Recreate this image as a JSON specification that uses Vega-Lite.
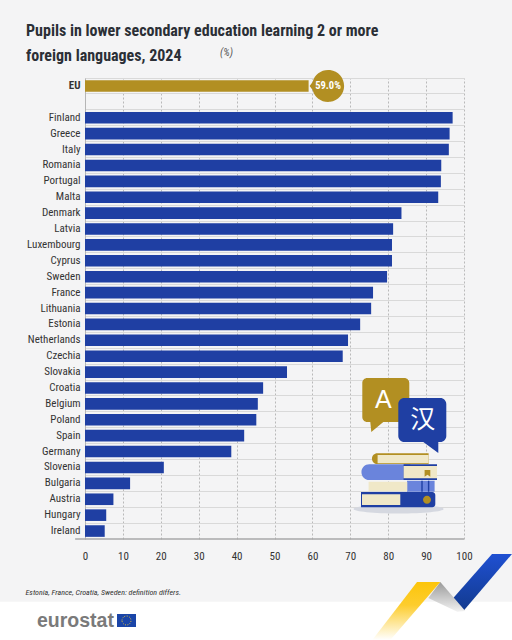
{
  "$schema": "https://vega.github.io/schema/vega-lite/v6.json",
  "width": 379,
  "height": 461,
  "autosize": "none",
  "padding": {"left": 85, "top": 78, "right": 48, "bottom": 101},
  "background": "#f4f4f5",
  "title": {
    "text": ["Pupils in lower secondary education learning 2 or more", "foreign languages, 2024"],
    "anchor": "start",
    "frame": "group",
    "dx": -59,
    "offset": -16,
    "font": "Roboto Condensed, Lato",
    "fontSize": 16,
    "fontWeight": "bold",
    "color": "#2b2f36",
    "lineHeight": 24.5
  },
  "config": {
    "view": {"stroke": null},
    "font": "Roboto Condensed, Lato"
  },
  "resolve": {"axis": {"x": "independent", "y": "independent"}},
  "data": {
    "values": [
      {"country": "EU", "pct": 59.0},
      {"country": "Finland", "pct": 97.0},
      {"country": "Greece", "pct": 96.2},
      {"country": "Italy", "pct": 96.0},
      {"country": "Romania", "pct": 94.0},
      {"country": "Portugal", "pct": 93.9},
      {"country": "Malta", "pct": 93.2},
      {"country": "Denmark", "pct": 83.5},
      {"country": "Latvia", "pct": 81.3},
      {"country": "Luxembourg", "pct": 81.0},
      {"country": "Cyprus", "pct": 81.0},
      {"country": "Sweden", "pct": 79.7},
      {"country": "France", "pct": 76.0},
      {"country": "Lithuania", "pct": 75.5},
      {"country": "Estonia", "pct": 72.6},
      {"country": "Netherlands", "pct": 69.4},
      {"country": "Czechia", "pct": 68.0},
      {"country": "Slovakia", "pct": 53.3},
      {"country": "Croatia", "pct": 47.0},
      {"country": "Belgium", "pct": 45.6},
      {"country": "Poland", "pct": 45.2},
      {"country": "Spain", "pct": 42.0},
      {"country": "Germany", "pct": 38.6},
      {"country": "Slovenia", "pct": 20.8},
      {"country": "Bulgaria", "pct": 11.9},
      {"country": "Austria", "pct": 7.5},
      {"country": "Hungary", "pct": 5.6},
      {"country": "Ireland", "pct": 5.2}
    ]
  },
  "layer": [
    {
      "mark": {"type": "bar", "size": 11.6},
      "encoding": {
        "x": {
          "field": "pct",
          "type": "quantitative",
          "scale": {"domain": [0, 100], "nice": false},
          "axis": {
            "title": null,
            "values": [0, 10, 20, 30, 40, 50, 60, 70, 80, 90, 100],
            "domain": false,
            "ticks": false,
            "labelFlush": false,
            "labelOverlap": false,
            "labelPadding": 11,
            "labelFontSize": 11,
            "labelColor": "#333333",
            "gridColor": "#b9b9b9",
            "gridDash": [2, 2],
            "gridWidth": 1
          }
        },
        "y": {
          "field": "country",
          "type": "nominal",
          "scale": {
            "domain": ["EU", " ", "Finland", "Greece", "Italy", "Romania", "Portugal", "Malta", "Denmark", "Latvia", "Luxembourg", "Cyprus", "Sweden", "France", "Lithuania", "Estonia", "Netherlands", "Czechia", "Slovakia", "Croatia", "Belgium", "Poland", "Spain", "Germany", "Slovenia", "Bulgaria", "Austria", "Hungary", "Ireland"],
            "padding": 0
          },
          "axis": {
            "title": null,
            "grid": true,
            "bandPosition": 0,
            "gridColor": "#d9d9d9",
            "gridWidth": 1,
            "domainColor": "#b5b5b5",
            "ticks": false,
            "labelPadding": 5,
            "labelFontSize": 11,
            "labelColor": "#333333",
            "labelFontWeight": {"condition": {"test": "datum.value == 'EU'", "value": "bold"}, "value": "normal"}
          }
        },
        "color": {
          "condition": {"test": "datum.country == 'EU'", "value": "#b28f22"},
          "value": "#1f3fa3"
        }
      }
    },
    {
      "transform": [
        {"filter": "datum.country == 'EU'"},
        {"calculate": "format(datum.pct, '.1f') + '%'", "as": "label"}
      ],
      "encoding": {
        "x": {"field": "pct", "type": "quantitative", "axis": null},
        "y": {"field": "country", "type": "nominal", "axis": null}
      },
      "layer": [
        {
          "mark": {
            "type": "point",
            "shape": "M1,0 L4,-4 A16,16 0 1 1 4,4 Z",
            "size": 4,
            "filled": true,
            "opacity": 1,
            "strokeWidth": 0,
            "fill": "#b28f22"
          }
        },
        {
          "mark": {"type": "text", "dx": 19.4, "align": "center", "baseline": "middle", "fontSize": 10.5, "fontWeight": "bold", "color": "#ffffff"},
          "encoding": {"text": {"field": "label", "type": "nominal"}}
        }
      ]
    },
    {
      "data": {"values": [{}]},
      "encoding": {
        "x": {"datum": 70, "type": "quantitative", "axis": null},
        "y": {
          "datum": "Croatia",
          "type": "nominal",
          "axis": null,
          "scale": {
            "domain": ["EU", " ", "Finland", "Greece", "Italy", "Romania", "Portugal", "Malta", "Denmark", "Latvia", "Luxembourg", "Cyprus", "Sweden", "France", "Lithuania", "Estonia", "Netherlands", "Czechia", "Slovakia", "Croatia", "Belgium", "Poland", "Spain", "Germany", "Slovenia", "Bulgaria", "Austria", "Hungary", "Ireland"],
            "padding": 0
          }
        }
      },
      "layer": [
        {"mark": {"type": "point", "shape": "M-351,213.7 H162 V253 H-351 Z", "size": 4, "filled": true, "opacity": 1, "strokeWidth": 0, "fill": "#ffffff"}},
        {"mark": {"type": "point", "shape": "M141.7,166 L161.7,166 L113.3,222.7 L103,210 Z", "size": 4, "filled": true, "opacity": 1, "strokeWidth": 0, "fill": {"gradient": "linear", "x1": 0, "y1": 1, "x2": 0, "y2": 0, "stops": [{"offset": 0, "color": "#123a8e"}, {"offset": 1, "color": "#1f50d2"}]}}},
        {"mark": {"type": "point", "shape": "M78,210 L90,194 L115,223 L107,223.7 Z", "size": 4, "filled": true, "opacity": 1, "strokeWidth": 0, "fill": {"gradient": "linear", "x1": 0, "y1": 0, "x2": 0, "y2": 1, "stops": [{"offset": 0, "color": "#9a9a9a"}, {"offset": 1, "color": "#f2f2f2"}]}}},
        {"mark": {"type": "point", "shape": "M66.7,194 L90,194 L40,252 L22,252 Z", "size": 4, "filled": true, "opacity": 1, "strokeWidth": 0, "fill": {"gradient": "linear", "x1": 0, "y1": 0, "x2": 0, "y2": 1, "stops": [{"offset": 0, "color": "#fcc50a"}, {"offset": 0.4, "color": "#fdcd2e"}, {"offset": 1, "color": "#ffffff"}]}}},
        {"mark": {"type": "point", "shape": "M-233.3,226 H-214.3 V239 H-233.3 Z", "size": 4, "filled": true, "opacity": 1, "strokeWidth": 0, "fill": "#1a45a8"}},
        {"mark": {"type": "point", "shape": "M-228.3,232.5 A4.5,4.5 0 1 1 -219.3,232.5 A4.5,4.5 0 1 1 -228.3,232.5 Z", "size": 4, "filled": false, "opacity": 1, "strokeWidth": 1, "stroke": "#e8c33a", "strokeDash": [0.9, 1.46]}},
        {"mark": {"type": "text", "text": "eurostat", "font": "Liberation Sans", "fontWeight": "bold", "fontSize": 19.5, "color": "#7a7a7a", "align": "left", "baseline": "middle", "dx": -313.3, "dy": 233}},
        {"mark": {"type": "text", "text": "Estonia, France, Croatia, Sweden: definition differs.", "fontStyle": "italic", "fontSize": 8, "color": "#333333", "align": "left", "baseline": "middle", "dx": -324.8, "dy": 205}},
        {"mark": {"type": "text", "text": "(%)", "fontStyle": "italic", "fontSize": 10.5, "color": "#555555", "align": "left", "baseline": "middle", "dx": -130.3, "dy": -335}},
        {"mark": {"type": "point", "shape": "M17,-10 H54 A5,5 0 0 1 59,-5 V29 A5,5 0 0 1 54,34 H33 L21,44 L20,34 H17 A5,5 0 0 1 12,29 V-5 A5,5 0 0 1 17,-10 Z", "size": 4, "filled": true, "opacity": 1, "strokeWidth": 0, "fill": "#b28f22"}},
        {"mark": {"type": "point", "shape": "M54,10 H90 A6,6 0 0 1 96,16 V48 A6,6 0 0 1 90,54 H88 V65 L73,54 H54 A6,6 0 0 1 48,48 V16 A6,6 0 0 1 54,10 Z", "size": 4, "filled": true, "opacity": 1, "strokeWidth": 0, "fill": "#1f3fa3"}},
        {"mark": {"type": "text", "text": "A", "font": "Liberation Sans", "fontSize": 25, "color": "#ffffff", "align": "center", "baseline": "middle", "dx": 33, "dy": 12}},
        {"mark": {"type": "text", "text": "汉", "font": "Noto Sans CJK SC", "fontSize": 25, "color": "#ffffff", "align": "center", "baseline": "middle", "dx": 72.5, "dy": 32}},
        {"mark": {"type": "point", "shape": "M3.3,121 A45,4.5 0 1 1 93.3,121 A45,4.5 0 1 1 3.3,121 Z", "size": 4, "filled": true, "opacity": 1, "strokeWidth": 0, "fill": "#d5d8e0"}},
        {"mark": {"type": "point", "shape": "M27,65.3 H78.3 V76 H27 A5,5 0 0 1 27,65.3 Z", "size": 4, "filled": true, "opacity": 1, "strokeWidth": 0, "fill": "#b28f22"}},
        {"mark": {"type": "point", "shape": "M19,76.3 H60 V92 H19 A7,7 0 0 1 19,76.3 Z M56.7,92.7 H84.3 V103.7 H56.7 Z", "size": 4, "filled": true, "opacity": 1, "strokeWidth": 0, "fill": "#6a84dc"}},
        {"mark": {"type": "point", "shape": "M10.7,104 H82 A3,3 0 0 1 85,107 V116 A3,3 0 0 1 82,119.3 H10.7 Z M53.3,76.3 H86.7 V92 H53.3 Z M71,92.7 H72.4 V103.7 H71 Z M77.6,92.7 H79 V103.7 H77.6 Z", "size": 4, "filled": true, "opacity": 1, "strokeWidth": 0, "fill": "#1f3fa3"}},
        {"mark": {"type": "point", "shape": "M27.3,67 H78.3 V75.3 H27.3 Z M53.3,78 H86.7 V90.3 H53.3 Z M18.3,93.7 H57 V103 H18.3 Z M11.7,106.3 H50 V117 H11.7 Z", "size": 4, "filled": true, "opacity": 1, "strokeWidth": 0, "fill": "#f0e8c8"}},
        {"mark": {"type": "point", "shape": "M74.3,82 H80 V88.7 L77.2,86.7 L74.3,88.7 Z M72.7,111.7 A4,4 0 1 1 80.7,111.7 A4,4 0 1 1 72.7,111.7 Z", "size": 4, "filled": true, "opacity": 1, "strokeWidth": 0, "fill": "#b28f22"}}
      ]
    },
    {
      "data": {"values": [{}]},
      "mark": {"type": "rule", "color": "#a8a8a8", "strokeWidth": 1.5},
      "encoding": {
        "x": {"datum": -2.6, "type": "quantitative", "axis": null},
        "x2": {"datum": 100},
        "y": {
          "datum": "Ireland",
          "type": "nominal",
          "axis": null,
          "bandPosition": 1,
          "scale": {
            "domain": ["EU", " ", "Finland", "Greece", "Italy", "Romania", "Portugal", "Malta", "Denmark", "Latvia", "Luxembourg", "Cyprus", "Sweden", "France", "Lithuania", "Estonia", "Netherlands", "Czechia", "Slovakia", "Croatia", "Belgium", "Poland", "Spain", "Germany", "Slovenia", "Bulgaria", "Austria", "Hungary", "Ireland"],
            "padding": 0
          }
        }
      }
    }
  ]
}
